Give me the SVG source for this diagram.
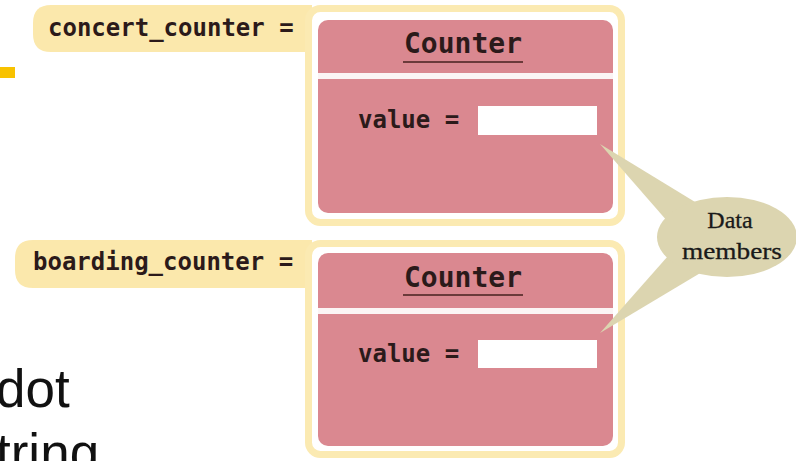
<svg xmlns="http://www.w3.org/2000/svg" width="796" height="461" viewBox="0 0 796 461">
<style>
.lbl{fill:#fbe8ac}
.frame{fill:#ffffff;stroke:#fbeab2;stroke-width:7}
.pink{fill:#da8890}
.sep{fill:#fbf4f4}
.mono{font-family:"DejaVu Sans Mono","Liberation Mono",monospace;font-weight:bold;fill:#2b1a1a}
.cls{font-family:"DejaVu Sans Mono","Liberation Mono",monospace;font-weight:bold;fill:#2b1a1a;font-size:28px}
.slot{fill:#ffffff}
.ul{stroke:#6b3a3a;stroke-width:2}
.call{fill:#dcd5b0}
.big{font-family:"Liberation Sans",Arial,sans-serif;font-size:53px;fill:#111111}
.serif{font-family:"Liberation Serif",serif;font-size:24px;fill:#1a1a1a;stroke:#1a1a1a;stroke-width:0.3}
</style>
<rect x="0" y="67" width="15" height="11" fill="#f8c200"/>
<text class="big" x="-4" y="407">dot</text>
<text class="big" x="-4" y="471">tring</text>
<g id="object1">
<path class="lbl" d="M51,5 H312 V52 H51 Q33,52 33,34 V23 Q33,5 51,5 Z"/>
<rect class="frame" x="308.5" y="8.5" width="313" height="214" rx="12"/>
<rect class="pink" x="318" y="20" width="295" height="193" rx="10"/>
<rect class="sep" x="318" y="73" width="295" height="6"/>
<text class="mono" x="48" y="36" font-size="24">concert_counter =</text>
<text class="cls" x="463" y="53" text-anchor="middle">Counter</text>
<line class="ul" x1="403" y1="62" x2="523" y2="62"/>
<text class="mono" x="358" y="128" font-size="24">value =</text>
<rect class="slot" x="478" y="106" width="119" height="29"/>
</g>
<g id="object2">
<path class="lbl" d="M33,240 H312 V288 H33 Q15,288 15,270 V258 Q15,240 33,240 Z"/>
<rect class="frame" x="308.5" y="243.5" width="313" height="211" rx="12"/>
<rect class="pink" x="318" y="253" width="295" height="193" rx="10"/>
<rect class="sep" x="318" y="308" width="295" height="6"/>
<text class="mono" x="33" y="270" font-size="24">boarding_counter =</text>
<text class="cls" x="463" y="287" text-anchor="middle">Counter</text>
<line class="ul" x1="403" y1="295" x2="523" y2="295"/>
<text class="mono" x="358" y="362" font-size="24">value =</text>
<rect class="slot" x="478" y="340" width="119" height="28"/>
</g>
<g id="connectors">
<polygon class="call" points="600,144 700,205 668,222"/>
<polygon class="call" points="600,333 668,256 702,272"/>
</g>
<g id="callout">
<ellipse class="call" cx="727" cy="237" rx="70" ry="40"/>
<text class="serif" x="730" y="228" text-anchor="middle">Data</text>
<text class="serif" x="732" y="259" text-anchor="middle" textLength="100" lengthAdjust="spacingAndGlyphs">members</text>
</g>
</svg>
